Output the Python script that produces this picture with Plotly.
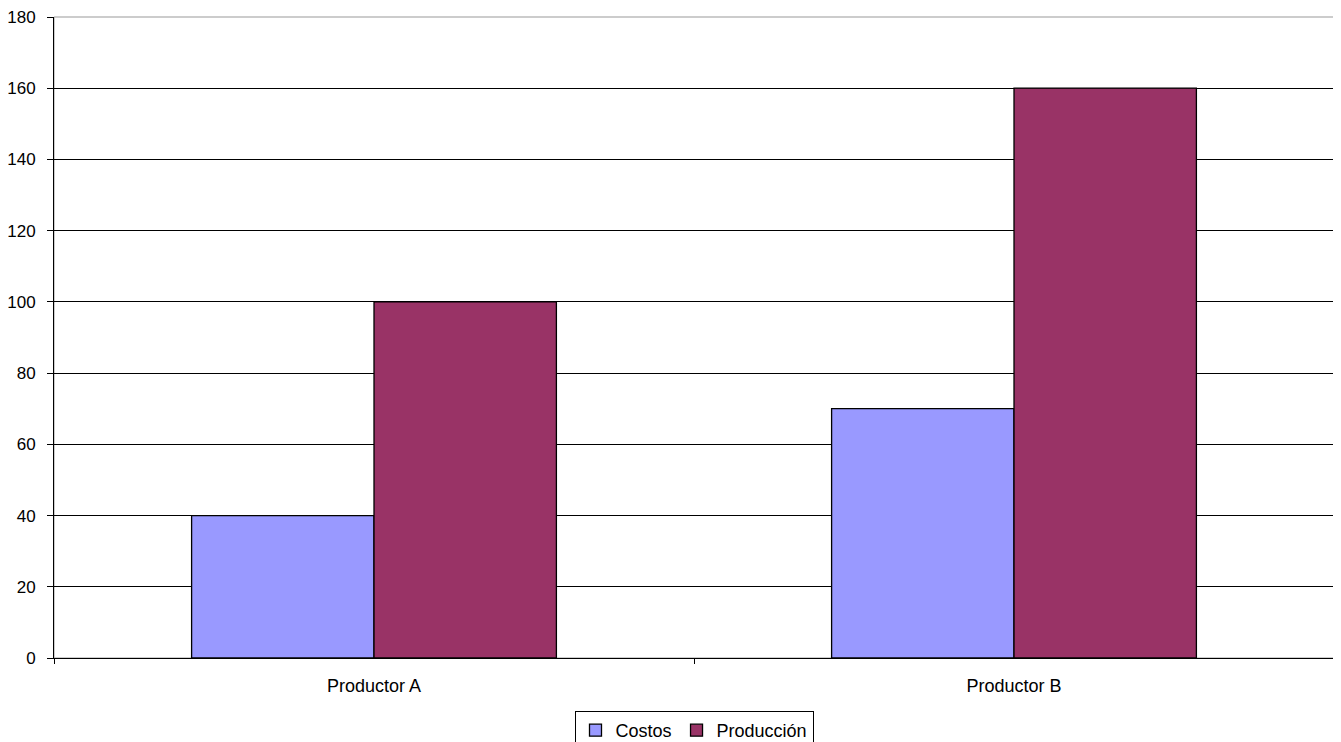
import plotly.graph_objects as go

categories = ["Productor A", "Productor B"]
costos = [40, 70]
produccion = [100, 160]

# the page body adds an 8px offset; the figure is sized to compensate
W, H = 1333, 734

fig = go.Figure()
fig.add_trace(go.Bar(name="Costos", x=categories, y=costos,
                     marker=dict(color="#9999FF", line=dict(color="#000000", width=1.3))))
fig.add_trace(go.Bar(name="Producción", x=categories, y=produccion,
                     marker=dict(color="#993366", line=dict(color="#000000", width=1.3))))

fig.update_layout(
    width=W, height=H,
    margin=dict(l=46, r=7, t=9, b=84, autoexpand=False),
    paper_bgcolor="white", plot_bgcolor="white",
    barmode="group", bargap=0.43, bargroupgap=0,
    font=dict(family="Liberation Sans, Arial, sans-serif", size=18, color="black"),
    showlegend=True,
    legend=dict(orientation="h", x=0.5, xanchor="center", xref="paper",
                y=1 - 703 / H, yanchor="top", yref="container",
                bordercolor="#000000", borderwidth=1, font=dict(size=18),
                itemwidth=30, tracegroupgap=0),
)
fig.update_xaxes(tickson="boundaries", ticks="outside", ticklen=5, tickcolor="black",
                 showline=True, linecolor="black", linewidth=1, mirror=False,
                 showgrid=False, tickfont=dict(size=18), automargin=False,
                 ticklabelstandoff=11)
fig.update_yaxes(range=[0, 180], dtick=20, ticks="outside", ticklen=6, tickcolor="black",
                 showline=True, linecolor="black", linewidth=1,
                 showgrid=True, gridcolor="black", gridwidth=1, zeroline=False,
                 tickfont=dict(size=17), automargin=False, ticklabelstandoff=8,
                 ticklabeloverflow="allow")
fig.add_shape(type="rect", xref="paper", yref="paper", x0=0, y0=0, x1=1, y1=1,
              line=dict(color="#999999", width=1), layer="below")
fig.write_html("out.html")
